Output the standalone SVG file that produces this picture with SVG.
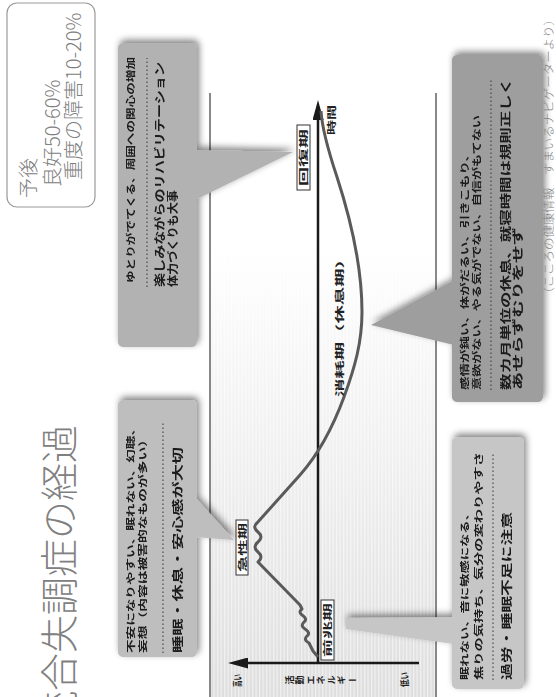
<svg xmlns="http://www.w3.org/2000/svg" width="556" height="697" viewBox="0 0 556 697">
<defs>
<style>
.jp{font-family:"Noto Sans CJK JP","Noto Sans CJK SC",sans-serif}
.bx text{font-family:"Noto Sans CJK JP","Noto Sans CJK SC",sans-serif;font-weight:bold;fill:#1a1a1a}
.s{font-size:9px}
.l{font-size:11.5px}
.dot{stroke:#333;stroke-width:1.2;stroke-dasharray:1.5 2.5;fill:none}
.lbl{font-family:"Noto Sans CJK JP",sans-serif;font-weight:bold;font-size:9px;fill:#222}
.lbox{fill:#fff;stroke:#333;stroke-width:1}
.gray{font-family:"Noto Sans CJK JP","Noto Sans CJK SC",sans-serif;fill:#808080;font-weight:300}
.axis{stroke:#1a1a1a;stroke-width:2.5;fill:none}
.rail{stroke:#888;stroke-width:2;fill:none}
</style>
<filter id="sh" x="-15%" y="-15%" width="140%" height="140%">
<feGaussianBlur in="SourceAlpha" stdDeviation="3.5"/>
<feOffset dx="3" dy="2"/>
<feComponentTransfer><feFuncA type="linear" slope="0.5"/></feComponentTransfer>
<feMerge><feMergeNode/><feMergeNode in="SourceGraphic"/></feMerge>
</filter>
<linearGradient id="bg" x1="0" y1="0" x2="1" y2="0">
<stop offset="0" stop-color="#dedede"/>
<stop offset="0.75" stop-color="#ffffff"/>
</linearGradient>
<pattern id="stripe" patternUnits="userSpaceOnUse" width="20" height="3.5">
<rect x="0" y="0" width="20" height="1.2" fill="#ffffff" fill-opacity="0.55"/>
</pattern>
<marker id="ah" markerUnits="userSpaceOnUse" markerWidth="20" markerHeight="11" refX="10" refY="5.5" orient="auto">
<path d="M0,0 L20,5.5 L0,11 z" fill="#1a1a1a"/>
</marker>
</defs>
<rect width="556" height="697" fill="#fff"/>
<g transform="translate(0,697) rotate(-90)">
  <g id="chart-bg">
    <rect x="0" y="210" width="604" height="226" fill="url(#bg)"/>
    <rect x="0" y="210" width="604" height="226" fill="url(#stripe)"/>
    <line class="rail" x1="0" y1="210" x2="604" y2="210"/>
    <line class="rail" x1="0" y1="436" x2="604" y2="436"/>
  </g>
  <g id="title">
    <text class="gray" x="272" y="73" font-size="38" text-anchor="end" fill="#888">統合失調症の経過</text>
  </g>
  <g id="prognosis">
    <rect x="490" y="7" width="204" height="88" rx="10" fill="#fff" stroke="#999" stroke-width="1.2"/>
    <text class="gray" x="499" y="36" font-size="20">予後</text>
    <text class="gray" x="510" y="60" font-size="20">良好50-60%</text>
    <text class="gray" x="517" y="81" font-size="20">重度の障害10-20%</text>
  </g>
  <g id="connectors">
    <line class="axis" x1="34" y1="318" x2="587" y2="318" marker-end="url(#ah)"/>
    <line class="axis" x1="34" y1="419" x2="34" y2="238" marker-end="url(#ah)"/>
    <path d="M40,318 L46,313 L54,309 Q57,303 61,307 Q64,311 68,305 Q71,300 75,304 Q78,308 82,302 Q85,298 88,302 L92,300 L135,258 Q140,264 145,258 Q150,252 155,258 Q160,264 165,258 Q170,252 174,257 L222,300 C240,316 262,330 300,344 C330,355 355,362 385,362 C430,362 480,350 520,337 C550,327 570,322 586,321" fill="none" stroke="#5a5a5a" stroke-width="3" stroke-linejoin="round"/>
  </g>
  <g id="axis-labels">
    <text class="lbl" x="10" y="241" font-size="8" textLength="13" lengthAdjust="spacingAndGlyphs">高い</text>
    <text class="lbl" x="10" y="408" font-size="8" textLength="15" lengthAdjust="spacingAndGlyphs">低い</text>
    <text class="lbl" x="17" y="285" font-size="10" style="writing-mode:vertical-rl" textLength="72" lengthAdjust="spacing">活動エネルギー</text>
    <text class="lbl" x="562" y="335" font-size="8" textLength="30" lengthAdjust="spacingAndGlyphs">時間</text>
  </g>
  <g id="phase-zenchoki">
    <rect class="lbox" x="37" y="321" width="60" height="13"/>
    <text class="lbl" x="67" y="331" text-anchor="middle" textLength="54" lengthAdjust="spacingAndGlyphs">前兆期</text>
  </g>
  <g id="phase-kyuseiki">
    <rect class="lbox" x="122" y="236" width="55" height="12"/>
    <text class="lbl" x="149.5" y="245.5" text-anchor="middle" textLength="49" lengthAdjust="spacingAndGlyphs">急性期</text>
  </g>
  <g id="phase-shomoki">
    <text class="lbl" x="300" y="343" font-size="11" textLength="147" lengthAdjust="spacingAndGlyphs">消耗期（休息期）</text>
  </g>
  <g id="phase-kaifukuki">
    <rect class="lbox" x="507" y="297" width="65" height="13"/>
    <text class="lbl" x="539.5" y="307" text-anchor="middle" textLength="57" lengthAdjust="spacingAndGlyphs">回復期</text>
  </g>
  <g id="callout-kaifukuki" class="bx" filter="url(#sh)">
    <polygon points="497,195 547,195 545,293" fill="#b2b2b2"/>
    <rect x="350" y="118" width="304" height="79" rx="5" fill="#b2b2b2"/>
    <text class="s" x="414" y="134" textLength="226" lengthAdjust="spacingAndGlyphs">ゆとりがでてくる、周囲への関心の増加</text>
    <line class="dot" x1="410" y1="147" x2="639" y2="147"/>
    <text class="l" x="410" y="164" textLength="225" lengthAdjust="spacingAndGlyphs">楽しみながらのリハビリテーション</text>
    <text class="l" x="410" y="177" textLength="97" lengthAdjust="spacingAndGlyphs">体力づくりも大事</text>
  </g>
  <g id="callout-kyuseiki" class="bx" filter="url(#sh)">
    <polygon points="160,195 200,195 157,234" fill="#bebebe"/>
    <rect x="40" y="118" width="257" height="79" rx="5" fill="#bebebe"/>
    <text class="s" x="44" y="134" textLength="231" lengthAdjust="spacingAndGlyphs">不安になりやすい、眠れない、幻聴、</text>
    <text class="s" x="44" y="146" textLength="220" lengthAdjust="spacingAndGlyphs">妄想（内容は被害的なものが多い）</text>
    <line class="dot" x1="44" y1="163" x2="275" y2="163"/>
    <text class="l" x="44" y="182" textLength="206" lengthAdjust="spacingAndGlyphs">睡眠・休息・安心感が大切</text>
  </g>
  <g id="callout-shomoki" class="bx" filter="url(#sh)">
    <polygon points="352,454 417,454 372,371" fill="#9e9e9e"/>
    <rect x="295" y="452" width="347" height="91" rx="5" fill="#9e9e9e"/>
    <text class="s" x="307" y="468" textLength="242" lengthAdjust="spacingAndGlyphs">感情が鈍い、体がだるい、引きこもり、</text>
    <text class="s" x="307" y="480" textLength="275" lengthAdjust="spacingAndGlyphs">意欲がない、やる気がでない、自信がもてない</text>
    <line class="dot" x1="307" y1="491" x2="617" y2="491"/>
    <text class="l" x="307" y="510" textLength="312" lengthAdjust="spacingAndGlyphs">数カ月単位の休息、就寝時間は規則正しく</text>
    <text class="l" x="307" y="522" textLength="163" lengthAdjust="spacingAndGlyphs">あせらずむりをせず</text>
  </g>
  <g id="callout-zenchoki" class="bx" filter="url(#sh)">
    <polygon points="53,454 80,454 79,346 68,346" fill="#c6c6c6"/>
    <rect x="8" y="452" width="252" height="72" rx="5" fill="#c6c6c6"/>
    <text class="s" x="17" y="468" textLength="173" lengthAdjust="spacingAndGlyphs">眠れない、音に敏感になる、</text>
    <text class="s" x="17" y="482" textLength="228" lengthAdjust="spacingAndGlyphs">焦りの気持ち、気分の変わりやすさ</text>
    <line class="dot" x1="17" y1="493" x2="245" y2="493"/>
    <text class="l" x="17" y="511" textLength="168" lengthAdjust="spacingAndGlyphs">過労・睡眠不足に注意</text>
  </g>
  <g id="credit">
    <text class="gray" x="397" y="553" font-size="11" fill="#888" textLength="287" lengthAdjust="spacingAndGlyphs">（こころの健康情報　すまいるナビゲーターより）</text>
  </g>
</g>
</svg>
